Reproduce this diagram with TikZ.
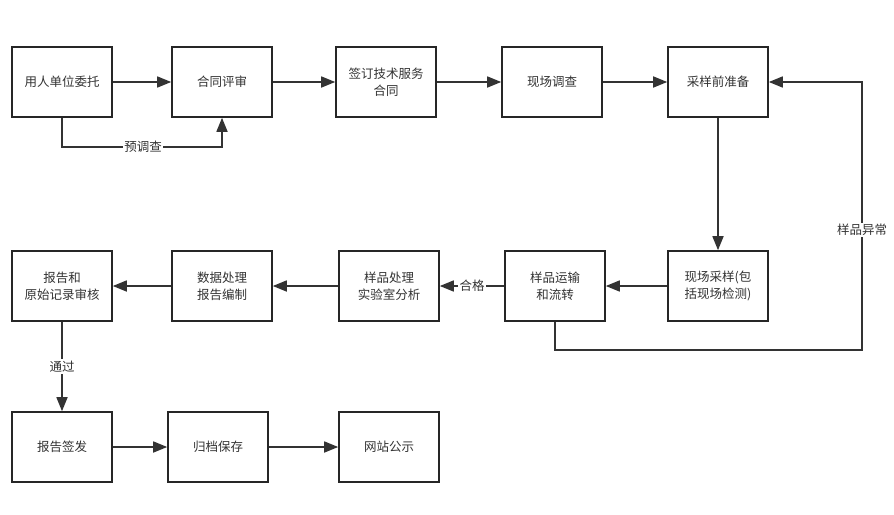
\documentclass[tikz,border=0pt]{standalone}
\usepackage{fontspec}
\setmainfont{Noto Sans CJK SC}
\usetikzlibrary{arrows.meta}

\begin{document}
\begin{tikzpicture}[x=1pt,y=-1pt,>={Triangle[length=14pt,width=11pt]},line width=1.6pt,
  main node/.style={rectangle,draw=black!85,fill=white,minimum width=100pt,minimum height=70pt,inner sep=2pt,align=center,font=\fontsize{12.5}{17}\selectfont,text=black!80},
  flow/.style={->,draw=black!80},
  lbl/.style={fill=white,inner sep=1.5pt,font=\fontsize{12.5}{15}\selectfont,text=black!80}]

  \useasboundingbox (0,0) rectangle (894,514);

  % first row
  \node[main node] (wt) at (62,82) {用人单位委托};
  \node[main node] (ps) at (222,82) {合同评审};
  \node[main node] (ht) at (386,82) {签订技术服务\\合同};
  \node[main node] (dc) at (552,82) {现场调查};
  \node[main node] (zb) at (718,82) {采样前准备};

  % second row
  \node[main node] (cy) at (718,286) {现场采样(包\\括现场检测)};
  \node[main node] (ys) at (555,286) {样品运输\\和流转};
  \node[main node] (fx) at (389,286) {样品处理\\实验室分析};
  \node[main node] (sj) at (222,286) {数据处理\\报告编制};
  \node[main node] (sh) at (62,286) {报告和\\原始记录审核};

  % third row
  \node[main node] (qf) at (62,447) {报告签发};
  \node[main node] (gd) at (218,447) {归档保存};
  \node[main node] (gs) at (389,447) {网站公示};

  \draw[flow] (wt) -- (ps);
  \draw[flow] (ps) -- (ht);
  \draw[flow] (ht) -- (dc);
  \draw[flow] (dc) -- (zb);
  \draw[flow] (wt.south) |- (143,147) node[lbl] {预调查} -| (ps.south);

  \draw[flow] (zb) -- (cy);
  \draw[flow] (cy) -- (ys);
  \draw[flow] (ys) -- node[lbl] {合格} (fx);
  \draw[flow] (fx) -- (sj);
  \draw[flow] (sj) -- (sh);
  \draw[flow] (ys.south) |- (862,350) -- (862,230) node[lbl] {样品异常} |- (zb.east);

  \draw[flow] (sh) -- node[lbl] {通过} (qf);
  \draw[flow] (qf) -- (gd);
  \draw[flow] (gd) -- (gs);

\end{tikzpicture}
\end{document}
